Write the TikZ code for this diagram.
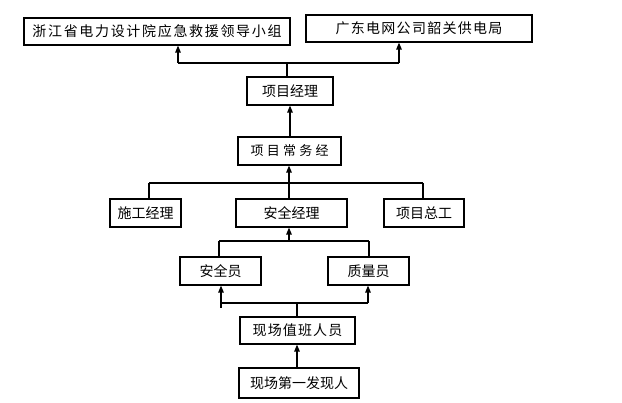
\documentclass[tikz,border=0pt]{standalone}
\usepackage{fontspec}
\setmainfont{Noto Sans CJK SC}
\usetikzlibrary{arrows.meta}
\newcommand{\lsp}[2]{{\addfontfeatures{LetterSpace=#1}#2}}
\begin{document}
\begin{tikzpicture}[x=1pt,y=-1pt,
  box/.style={draw,line width=1.2pt,rectangle,inner sep=0pt,minimum height=28pt,font=\fontsize{14}{14}\selectfont},
  conn/.style={line width=1.2pt},
  arr/.style={line width=1.2pt,-{Triangle[length=7pt,width=5.5pt]}}]
\useasboundingbox (0,0) rectangle (622,403);
\fill[white] (0,0) rectangle (622,403);
% nodes
\node[box,minimum width=266pt,minimum height=27pt] (b1) at (157,31.5) {\lsp{12}{浙江省电力设计院应急救援领导小组}};
\node[box,minimum width=226pt,minimum height=27pt] (b2) at (419,28.5) {\lsp{9}{广东电网公司韶关供电局}};
\node[box,minimum width=86pt] (pm) at (290,91) {项目经理};
\node[box,minimum width=103pt] (cw) at (289.5,151) {\fontsize{13}{13}\selectfont\lsp{25}{项目常务经}};
\node[box,minimum width=71pt] (sg) at (145.5,213) {施工经理};
\node[box,minimum width=111pt] (aq) at (291.5,213) {安全经理};
\node[box,minimum width=80pt] (zg) at (424,213) {项目总工};
\node[box,minimum width=81pt] (ay) at (220.5,271) {安全员};
\node[box,minimum width=81pt] (zl) at (368.5,271) {质量员};
\node[box,minimum width=115pt,minimum height=27pt] (zb) at (297.5,330.5) {\lsp{8}{现场值班人员}};
\node[box,minimum width=120pt,minimum height=30pt] (fx) at (299,383) {现场第一发现人};
% junction coordinates
\coordinate (j1) at (287,63);
\coordinate (j1l) at (178,63);
\coordinate (j1r) at (399,63);
\coordinate (j2) at (289,183);
\coordinate (j2l) at (149,183);
\coordinate (j2r) at (423,183);
\coordinate (j3) at (289,241);
\coordinate (j3l) at (219,241);
\coordinate (j3r) at (369,241);
\coordinate (j4) at (297,303);
\coordinate (j4l) at (221,303);
\coordinate (j4r) at (368,303);
\coordinate (j4b) at (221,308);
% connectors
\draw[conn] (pm.north -| j1) -- (j1);
\draw[conn] (j1l) -- (j1r);
\draw[arr] (j1l) -- (b1.south -| j1l);
\draw[arr] (j1r) -- (b2.south -| j1r);
\draw[arr] (cw.north -| pm) -- (pm.south);
\draw[arr] (aq.north -| j2) -- (cw.south -| j2);
\draw[conn] (j2l) -- (j2r);
\draw[conn] (j2l) -- (sg.north -| j2l);
\draw[conn] (j2r) -- (zg.north -| j2r);
\draw[conn] (j3l) -- (j3r);
\draw[conn] (ay.north -| j3l) -- (j3l);
\draw[conn] (zl.north -| j3r) -- (j3r);
\draw[arr] (j3) -- (aq.south -| j3);
\draw[conn] (zb.north -| j4) -- (j4);
\draw[conn] (j4l) -- (j4r);
\draw[arr] (j4b) -- (ay.south -| j4l);
\draw[arr] (j4r) -- (zl.south -| j4r);
\draw[arr] (fx.north -| j4) -- (zb.south -| j4);
\end{tikzpicture}
\end{document}
